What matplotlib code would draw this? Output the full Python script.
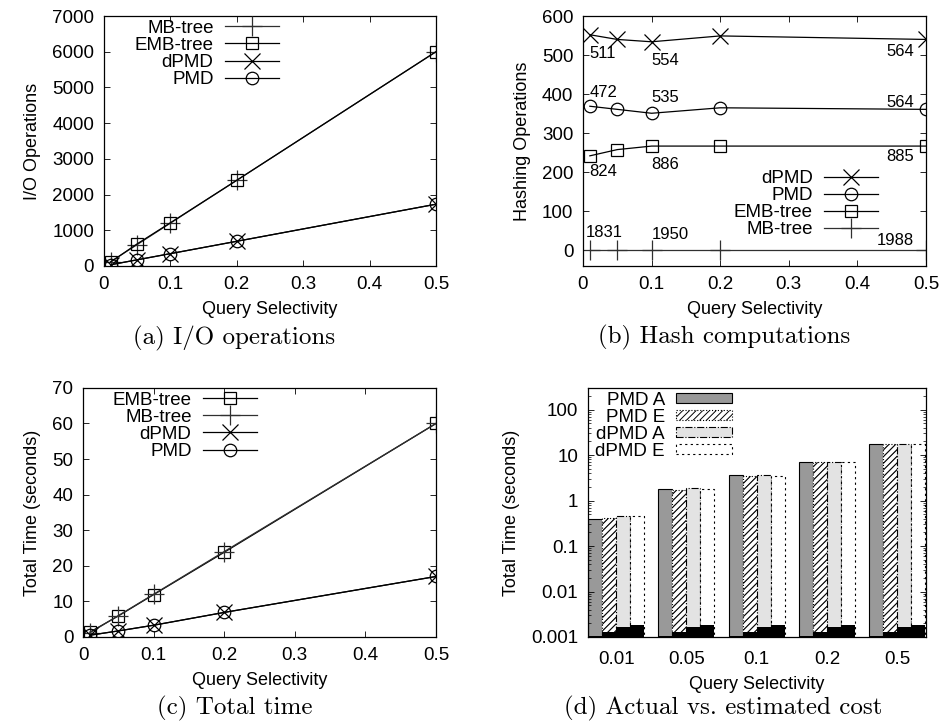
import numpy as np
import matplotlib
matplotlib.use("Agg")
import matplotlib.pyplot as plt

plt.rcParams["font.family"] = ["Liberation Sans", "DejaVu Sans"]
plt.rcParams["hatch.linewidth"] = 0.7

# shared x values
selectivity = [0.01, 0.05, 0.1, 0.2, 0.5]

# (a) I/O operations
io_mbtree = [120, 600, 1200, 2400, 6000]
io_embtree = [110, 620, 1210, 2400, 6000]
io_dpmd = [35, 173, 346, 692, 1730]
io_pmd = [35, 173, 346, 692, 1730]

# (b) hashing operations
hash_dpmd = [552, 540, 534, 549, 540]
hash_pmd = [369, 361, 351, 365, 361]
hash_embtree = [242, 258, 267, 267, 267]
hash_mbtree = [0, 0, 0, 0, 0]
ann_dpmd = ["511", "554", "564"]
ann_pmd = ["472", "535", "564"]
ann_embtree = ["824", "886", "885"]
ann_mbtree = ["1831", "1950", "1988"]

# (c) total time
tt_embtree = [1.4, 5.9, 11.9, 23.8, 60]
tt_mbtree = [1.2, 6.0, 12.0, 24.0, 60]
tt_dpmd = [0.5, 1.7, 3.3, 6.9, 17.0]
tt_pmd = [0.5, 1.7, 3.3, 6.9, 17.0]

# (d) actual vs estimated
group_labels = ["0.01", "0.05", "0.1", "0.2", "0.5"]
pmd_a = [0.40, 1.80, 3.60, 7.0, 17.4]
pmd_e = [0.42, 1.75, 3.50, 7.0, 17.5]
dpmd_a = [0.45, 1.85, 3.60, 7.1, 17.5]
dpmd_e = [0.46, 1.80, 3.50, 7.0, 17.5]
pmd_a_low = [0.00105] * 5
pmd_e_low = [0.00130] * 5
dpmd_a_low = [0.00165] * 5
dpmd_e_low = [0.00180] * 5

TICK_FS = 13.5
LABEL_FS = 13
LEG_FS = 13.5
ANN_FS = 12
CAP_FS = 18
BASE = 0.001

fig = plt.figure(figsize=(9.4, 7.24), dpi=100)

markers = {
    "MB-tree": dict(marker="+", ms=15, mew=0.9),
    "EMB-tree": dict(marker="s", ms=9, mfc="none", mew=0.9),
    "dPMD": dict(marker="x", ms=11, mew=0.9),
    "PMD": dict(marker="o", ms=9, mfc="none", mew=0.9),
}


def style_axes(ax):
    ax.tick_params(direction="in", top=True, right=True, labelsize=TICK_FS,
                   length=4, width=0.6, pad=7)
    for s in ax.spines.values():
        s.set_linewidth(0.9)


def line(ax, y, name, color="black"):
    ax.plot(selectivity, y, color=color, lw=0.9, label=name, **markers[name])


def gp_legend(ax, loc, anchor, **kw):
    opts = dict(loc=loc, frameon=False, markerfirst=False, numpoints=1,
                fontsize=LEG_FS, handlelength=2.9, labelspacing=0.0,
                borderaxespad=0.0, borderpad=0.2, handletextpad=0.6,
                bbox_to_anchor=anchor)
    opts.update(kw)
    leg = ax.legend(**opts)
    leg._legend_box.align = "right"
    return leg


def caption(x, y, text):
    fig.text(x, y, text, ha="center", va="center", fontsize=CAP_FS, family="cmr10")


# (a)
ax = fig.add_axes([0.1106, 0.6326, 0.3532, 0.3453])
line(ax, io_mbtree, "MB-tree", "#303030")
line(ax, io_embtree, "EMB-tree")
line(ax, io_dpmd, "dPMD")
line(ax, io_pmd, "PMD")
ax.set_xlim(0, 0.5)
ax.set_ylim(0, 7000)
ax.set_xticks([0, 0.1, 0.2, 0.3, 0.4, 0.5], ["0", "0.1", "0.2", "0.3", "0.4", "0.5"])
ax.set_yticks(range(0, 7001, 1000))
style_axes(ax)
ax.set_xlabel("Query Selectivity", fontsize=LABEL_FS, labelpad=6)
ax.set_ylabel("I/O Operations", fontsize=LABEL_FS, labelpad=8)
gp_legend(ax, "upper right", (0.539, 1.0))
caption(0.249, 0.533, "(a) I/O operations")

# (b)
ax = fig.add_axes([0.6202, 0.6326, 0.3649, 0.3453])
line(ax, hash_dpmd, "dPMD")
line(ax, hash_pmd, "PMD")
line(ax, hash_embtree, "EMB-tree")
line(ax, hash_mbtree, "MB-tree", "#303030")
ax.set_xlim(0, 0.5)
ax.set_ylim(-40, 600)
ax.set_xticks([0, 0.1, 0.2, 0.3, 0.4, 0.5], ["0", "0.1", "0.2", "0.3", "0.4", "0.5"])
ax.set_yticks(range(0, 601, 100))
style_axes(ax)
ax.set_xlabel("Query Selectivity", fontsize=LABEL_FS, labelpad=6)
ax.set_ylabel("Hashing Operations", fontsize=LABEL_FS, labelpad=8)
gp_legend(ax, "lower right", (0.872, 0.095))
ann_x = [0.009, 0.1, 0.483]
ann_ha = ["left", "left", "right"]
for labels, ys in [(ann_dpmd, [503, 486, 508]), (ann_pmd, [405, 392, 378]),
                   (ann_embtree, [203, 219, 241]), (ann_mbtree, [45, 40, 26])]:
    for lab, xx, yy, ha in zip(labels, ann_x, ys, ann_ha):
        if lab == "1831":
            xx = 0.004
        ax.text(xx, yy, lab, fontsize=ANN_FS, ha=ha, va="center")
caption(0.770, 0.534, "(b) Hash computations")

# (c)
ax = fig.add_axes([0.0883, 0.1202, 0.3755, 0.344])
line(ax, tt_embtree, "EMB-tree")
line(ax, tt_mbtree, "MB-tree", "#303030")
line(ax, tt_dpmd, "dPMD")
line(ax, tt_pmd, "PMD")
ax.set_xlim(0, 0.5)
ax.set_ylim(0, 70)
ax.set_xticks([0, 0.1, 0.2, 0.3, 0.4, 0.5], ["0", "0.1", "0.2", "0.3", "0.4", "0.5"])
ax.set_yticks(range(0, 71, 10))
style_axes(ax)
ax.set_xlabel("Query Selectivity", fontsize=LABEL_FS, labelpad=6)
ax.set_ylabel("Total Time (seconds)", fontsize=LABEL_FS, labelpad=8)
gp_legend(ax, "upper right", (0.504, 1.0))
caption(0.250, 0.022, "(c) Total time")

# (d)
ax = fig.add_axes([0.6255, 0.1202, 0.3596, 0.344])
x = np.arange(len(group_labels))
w = 0.2
styles = [
    (pmd_a, pmd_a_low, "PMD A", dict(color="#999999", ls="-"), None),
    (pmd_e, pmd_e_low, "PMD E", dict(color="white", ls=":"), "/////"),
    (dpmd_a, dpmd_a_low, "dPMD A", dict(color="#e3e3e3", ls="-."), None),
    (dpmd_e, dpmd_e_low, "dPMD E", dict(color="white", ls=(0, (2, 3))), None),
]
for i, (vals, low, name, st, hatch) in enumerate(styles):
    xs = x + (i - 1.5) * w
    heights = np.array(vals) - BASE
    if hatch:
        # grey hatching underneath a dotted black outline
        ax.bar(xs, heights, w, bottom=BASE, color="white", edgecolor="#707070",
               hatch=hatch, lw=0)
        st = dict(st, color="none")
    ax.bar(xs, heights, w, bottom=BASE, edgecolor="black", lw=0.8,
           hatch=hatch, label=name, **st)
    ax.bar(xs, np.array(low) - BASE, w, bottom=BASE, color="black", lw=0)
ax.set_yscale("log")
ax.set_xlim(-0.4, 4.41)
ax.set_ylim(BASE, 300)
ax.set_yticks([0.001, 0.01, 0.1, 1, 10, 100], ["0.001", "0.01", "0.1", "1", "10", "100"])
ax.set_xticks(x, group_labels)
style_axes(ax)
ax.tick_params(which="minor", direction="in", right=True, length=2, width=0.5)
ax.tick_params(axis="x", length=0, pad=10)
ax.set_xlabel("Query Selectivity", fontsize=LABEL_FS, labelpad=6)
ax.set_ylabel("Total Time (seconds)", fontsize=LABEL_FS, labelpad=8)
gp_legend(ax, "upper right", (0.438, 1.0), handlelength=3.0, handleheight=0.45)
caption(0.769, 0.022, "(d) Actual vs. estimated cost")

fig.savefig("out.png", dpi=100)
